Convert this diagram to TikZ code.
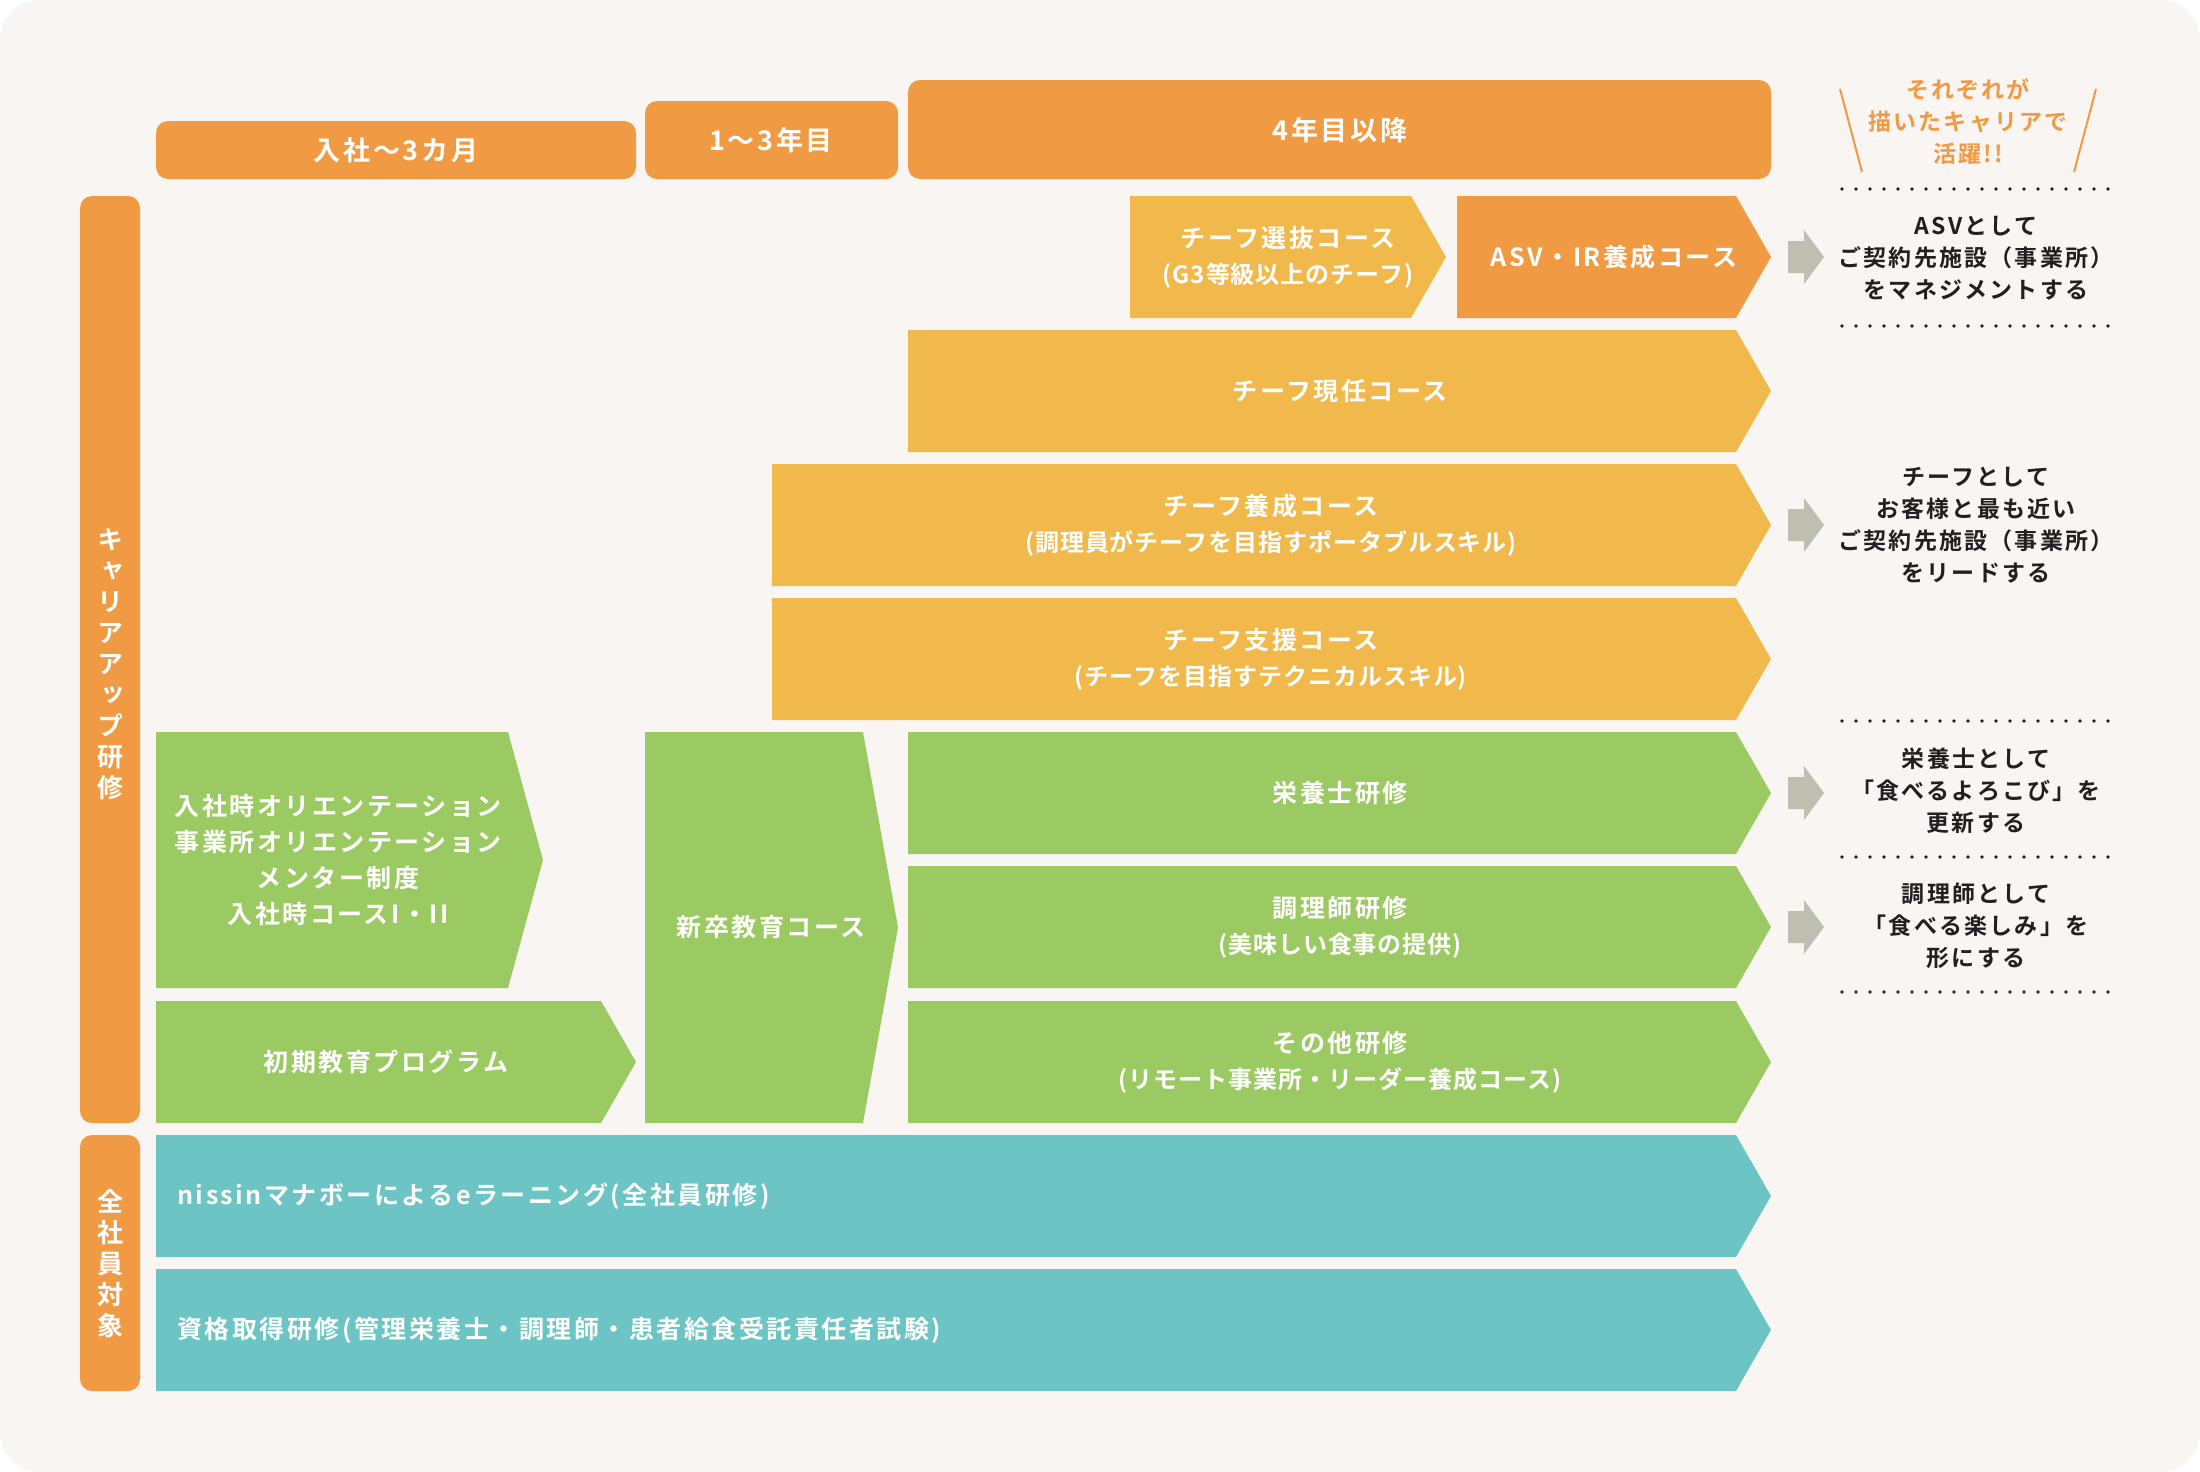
\documentclass[tikz,border=0pt]{standalone}
\usepackage{fontspec}
\usepackage{tikz}
\newfontfamily\jpw{Noto Sans CJK JP Bold}[LetterSpace=10]
\newfontfamily\jpb{Noto Sans CJK JP Bold}[LetterSpace=9.5]
\newfontfamily\jpv{Noto Sans CJK JP Bold}[RawFeature=+vert]
\definecolor{bgcol}{HTML}{F8F5F2}
\definecolor{orng}{HTML}{F09A43}
\definecolor{yllw}{HTML}{F1B84B}
\definecolor{grn}{HTML}{9BC962}
\definecolor{teal1}{HTML}{6CC4C4}
\definecolor{gry}{HTML}{BEBEB1}
\definecolor{ink}{HTML}{231F20}
% box with a pointed right end: x1, x2, ytop, ybottom, colour
\newcommand{\coursebox}[5]{\fill[#5] (#1,#3) -- ({#2-35},#3) -- (#2,{(#3+#4)/2}) -- ({#2-35},#4) -- (#1,#4) -- cycle;}
% small grey arrow at height y
\newcommand{\nextarrow}[1]{\fill[gry] (1788,{#1-16}) -- (1804,{#1-16}) -- (1804,{#1-27}) -- (1824,#1) -- (1804,{#1+27}) -- (1804,{#1+16}) -- (1788,{#1+16}) -- cycle;}
% second line of a course label
\newcommand{\subline}[1]{{\addfontfeature{LetterSpace=4}\fontsize{12}{18}\selectfont #1}}

\begin{document}
\begin{tikzpicture}[x=0.5pt, y=-0.5pt,
  lbl/.style={text=white, font=\jpw\fontsize{12.5}{18}\selectfont, align=center, inner sep=0pt},
  hlbl/.style={lbl, font=\jpw\fontsize{13.5}{18}\selectfont},
  vlbl/.style={text=white, font=\jpv\fontsize{13}{15.5}\selectfont, align=center, inner sep=0pt},
  note/.style={text=ink, font=\jpb\fontsize{11.5}{16}\selectfont, align=center, inner sep=0pt},
  dots/.style={ink, line width=1.8pt, line cap=round, dash pattern=on 0pt off 7pt}]
\useasboundingbox (0,0) rectangle (2200,1472);
\fill[white] (0,0) rectangle (2200,1472);
\fill[bgcol, rounded corners=20pt] (0,0) rectangle (2200,1472);

% headers
\fill[orng, rounded corners=6pt] (156,121) rectangle (636,179);
\fill[orng, rounded corners=6pt] (645,101) rectangle (898,179);
\fill[orng, rounded corners=6pt] (908,80) rectangle (1771,179);
\node[hlbl] (hStart) at (396,150) {入社〜3カ月};
\node[hlbl] (hMid) at (771,140) {1〜3年目};
\node[hlbl] (hLate) at (1340,130) {4年目以降};

% side bars
\fill[orng, rounded corners=6pt] (80,196) rectangle (140,1123);
\fill[orng, rounded corners=6pt] (80,1135) rectangle (140,1391);
\node[vlbl] (vCareer) at (110,664) {キ\\ャ\\リ\\ア\\ア\\ッ\\プ\\研\\修};
\node[vlbl] (vAll) at (110,1264) {全\\社\\員\\対\\象};

% courses
\coursebox{1130}{1446}{196}{318}{yllw}
\coursebox{1457}{1771}{196}{318}{orng}
\coursebox{908}{1771}{330}{452}{yllw}
\coursebox{772}{1771}{464}{586}{yllw}
\coursebox{772}{1771}{598}{720}{yllw}
\coursebox{908}{1771}{732}{854}{grn}
\coursebox{908}{1771}{866}{988}{grn}
\coursebox{908}{1771}{1001}{1123}{grn}
\coursebox{156}{543}{732}{988}{grn}
\coursebox{156}{636}{1001}{1123}{grn}
\coursebox{645}{898}{732}{1123}{grn}
\coursebox{156}{1771}{1135}{1257}{teal1}
\coursebox{156}{1771}{1269}{1391}{teal1}

\node[lbl] (cSelect) at (1288,257) {チーフ選抜コース\\\subline{(G3等級以上のチーフ)}};
\node[lbl] (cAsv) at (1614,257) {ASV・IR養成コース};
\node[lbl] (cCurrent) at (1340,391) {チーフ現任コース};
\node[lbl] (cTrain) at (1271,525) {チーフ養成コース\\\subline{(調理員がチーフを目指すポータブルスキル)}};
\node[lbl] (cSupport) at (1271,659) {チーフ支援コース\\\subline{(チーフを目指すテクニカルスキル)}};
\node[lbl] (cDiet) at (1340,793) {栄養士研修};
\node[lbl] (cCook) at (1340,927) {調理師研修\\\subline{(美味しい食事の提供)}};
\node[lbl] (cOther) at (1340,1062) {その他研修\\\subline{(リモート事業所・リーダー養成コース)}};
\node[lbl] (cOrient) at (338,860) {入社時オリエンテーション\\事業所オリエンテーション\\メンター制度\\入社時コースI・II};
\node[lbl] (cInitial) at (386,1062) {初期教育プログラム};
\node[lbl] (cGrad) at (771,927) {新卒教育コース};
\node[lbl, anchor=west] (cLearn) at (177,1196) {nissinマナボーによるeラーニング(全社員研修)};
\node[lbl, anchor=west] (cQualify) at (177,1330) {資格取得研修(管理栄養士・調理師・患者給食受託責任者試験)};

% right column
\draw[orng, line width=1pt] (1840,89) -- (1862,172);
\draw[orng, line width=1pt] (2096,89) -- (2074,172);
\node[note, text=orng] (oMotto) at (1968,122) {それぞれが\\描いたキャリアで\\活躍!!};
\foreach \y in {189,326,721,857,992}
  \draw[dots] (1842,\y) -- (2108.5,\y);
\nextarrow{257}
\nextarrow{525}
\nextarrow{793}
\nextarrow{927}
\node[note] (oAsv) at (1976,258) {ASVとして\\ご契約先施設（事業所）\\をマネジメントする};
\node[note] (oChief) at (1976,525) {チーフとして\\お客様と最も近い\\ご契約先施設（事業所）\\をリードする};
\node[note] (oDiet) at (1976,791) {栄養士として\\「食べるよろこび」を\\更新する};
\node[note] (oCook) at (1976,926) {調理師として\\「食べる楽しみ」を\\形にする};
\end{tikzpicture}
\end{document}
